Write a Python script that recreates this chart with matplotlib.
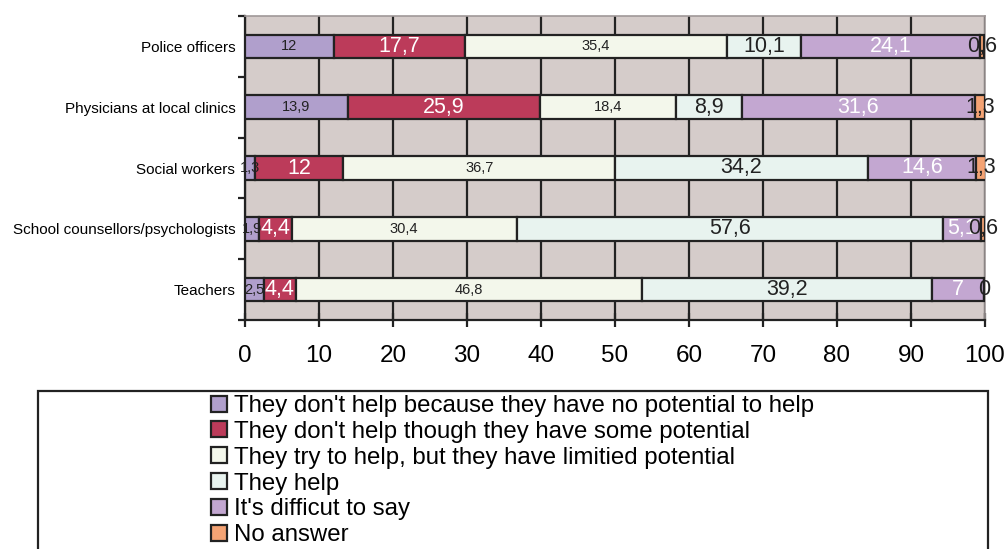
import matplotlib
matplotlib.use("Agg")
import matplotlib.pyplot as plt
from matplotlib.patches import Rectangle, Patch
import numpy as np

plt.rcParams['font.family'] = ['Liberation Sans', 'DejaVu Sans']

categories = ["Police officers", "Physicians at local clinics", "Social workers",
              "School counsellors/psychologists", "Teachers"]
series_names = ["They don't help because they have no potential to help",
                "They don't help though they have some potential",
                "They try to help, but they have limitied potential",
                "They help",
                "It's difficut to say",
                "No answer"]
no_potential = [12, 13.9, 1.3, 1.9, 2.5]
some_potential = [17.7, 25.9, 12, 4.4, 4.4]
limited_potential = [35.4, 18.4, 36.7, 30.4, 46.8]
they_help = [10.1, 8.9, 34.2, 57.6, 39.2]
difficult = [24.1, 31.6, 14.6, 5.1, 7]
no_answer = [0.6, 1.3, 1.3, 0.6, 0]
x_ticks = [0, 10, 20, 30, 40, 50, 60, 70, 80, 90, 100]

series = [no_potential, some_potential, limited_potential, they_help, difficult, no_answer]
colors = ["#B09FCC", "#BC3B5A", "#F3F7EB", "#E8F3EF", "#C3A7D1", "#F4A374"]
label_colors = ["#222222", "white", "#222222", "#222222", "white", "#222222"]
label_sizes = [10.5, 15.5, 10.5, 15.5, 15.5, 15.5]

fig = plt.figure(figsize=(10.06, 5.49), dpi=100)
ax = fig.add_axes([245/1006, 1-320/549, 740/1006, 304/549])
ax.set_facecolor("#D5CCCA")

y = np.arange(len(categories))[::-1]
left = np.zeros(len(categories))
for vals, col, lc, ls in zip(series, colors, label_colors, label_sizes):
    v = np.array(vals, dtype=float)
    ax.barh(y, v, left=left, height=0.39, color=col, edgecolor="#222222",
            linewidth=1.6, zorder=3)
    for yi, li, vi in zip(y, left, v):
        txt = f"{vi:g}".replace(".", ",")
        ax.text(li + vi/2, yi, txt, ha="center", va="center", color=lc,
                fontsize=ls, zorder=5)
    left = left + v

ax.set_xlim(0, 100)
ax.set_ylim(-0.5, len(categories) - 0.5)
ax.set_xticks(x_ticks)
ax.set_xticklabels([str(t) for t in x_ticks], fontsize=17.5)
ax.xaxis.grid(True, color="#222222", linewidth=1.6, zorder=1)
ax.set_axisbelow(True)

ax.set_yticks(y)
ax.set_yticklabels(categories, fontsize=11)
ax.tick_params(axis='y', which='major', length=0, pad=7)
ax.set_yticks(np.arange(-0.5, len(categories)), minor=True)
ax.tick_params(axis='y', which='minor', length=5, width=1.6, direction='out', color="#222222")
ax.tick_params(axis='x', which='major', length=10, width=1.6, direction='inout',
               pad=13, color="#222222")

ax.spines['left'].set_color("#222222")
ax.spines['left'].set_linewidth(1.6)
ax.spines['bottom'].set_color("#222222")
ax.spines['bottom'].set_linewidth(1.6)
ax.spines['right'].set_color("#A09898")
ax.spines['right'].set_linewidth(1.2)
ax.spines['top'].set_color("#A09898")
ax.spines['top'].set_linewidth(1.2)

# legend box
fig.patches.append(Rectangle((38/1006, -0.05), 950/1006, 0.05 + (549-391)/549,
                             transform=fig.transFigure, fill=False,
                             edgecolor="#222222", linewidth=1.6))
handles = [Patch(facecolor=c, edgecolor="#222222", linewidth=1.6) for c in colors]
fig.legend(handles, series_names, loc="upper left",
           bbox_to_anchor=(211/1006, 1-395/549), frameon=False,
           fontsize=17.3, handlelength=0.65, handleheight=0.65, handletextpad=0.3,
           labelspacing=0.16, borderpad=0, borderaxespad=0)

fig.savefig("out.png", dpi=100)
